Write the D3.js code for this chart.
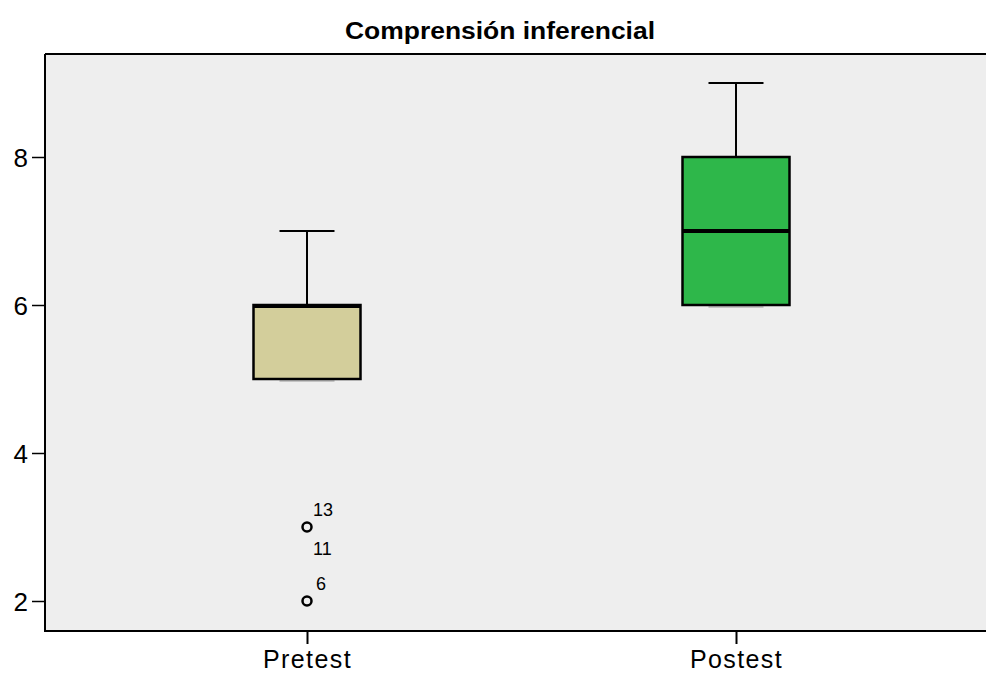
<!DOCTYPE html>
<html>
<head>
<meta charset="utf-8">
<script src="https://cdn.jsdelivr.net/npm/d3@7"></script>
<style>
  html, body { margin: 0; padding: 0; background: #ffffff; }
  svg { display: block; }
</style>
</head>
<body>
<svg id="chart" width="986" height="674"></svg>
<script>
// ---- data ----
const title = "Comprensión inferencial";
const categories = ["Pretest", "Postest"];
const whiskerLow = [5, 6];
const q1 = [5, 6];
const median = [6, 7];
const q3 = [6, 8];
const whiskerHigh = [7, 9];
const fills = ["#D3CE9B", "#2EB74A"];
const outlierGroup = ["Pretest", "Pretest"];
const outlierValue = [3, 2];
const outlierLabelTop = ["13", "6"];
const outlierLabelBottom = ["11", ""];
const yTicks = [2, 4, 6, 8];

// ---- layout ----
const W = 986, H = 674;
const plotLeft = 45, plotTop = 54, plotRight = 986, plotBottom = 631;
const svg = d3.select("#chart");

const y = d3.scaleLinear().domain([2, 8]).range([601, 157]);
const x = d3.scalePoint().domain(categories).range([307, 736]);
const boxW = 107, capW = 55;

// background
svg.append("rect").attr("x", 0).attr("y", 0).attr("width", W).attr("height", H).attr("fill", "#ffffff");
svg.append("rect")
  .attr("x", plotLeft).attr("y", plotTop)
  .attr("width", plotRight - plotLeft).attr("height", plotBottom - plotTop)
  .attr("fill", "#EEEEEE");

// title
svg.append("text")
  .attr("x", 500).attr("y", 39)
  .attr("text-anchor", "middle")
  .attr("font-family", "Liberation Sans, Arial, sans-serif")
  .attr("font-weight", "bold")
  .attr("font-size", 23)
  .attr("textLength", 310)
  .attr("lengthAdjust", "spacingAndGlyphs")
  .attr("fill", "#000")
  .text(title);

// boxes
const data = categories.map((c, i) => ({
  c, lo: whiskerLow[i], q1: q1[i], med: median[i], q3: q3[i], hi: whiskerHigh[i], fill: fills[i]
}));

const g = svg.append("g");
data.forEach(d => {
  const cx = x(d.c);
  // whiskers
  g.append("line").attr("x1", cx).attr("x2", cx).attr("y1", y(d.hi)).attr("y2", y(d.q3))
    .attr("stroke", "#000").attr("stroke-width", 2);
  g.append("line").attr("x1", cx).attr("x2", cx).attr("y1", y(d.lo)).attr("y2", y(d.q1))
    .attr("stroke", "#000").attr("stroke-width", 2);
  g.append("line").attr("x1", cx - capW / 2).attr("x2", cx + capW / 2).attr("y1", y(d.hi)).attr("y2", y(d.hi))
    .attr("stroke", "#000").attr("stroke-width", 2);
  g.append("line").attr("x1", cx - capW / 2).attr("x2", cx + capW / 2).attr("y1", y(d.lo) + 2).attr("y2", y(d.lo) + 2)
    .attr("stroke", "#999").attr("stroke-width", 1);
  // box
  g.append("rect")
    .attr("x", cx - boxW / 2).attr("y", y(d.q3))
    .attr("width", boxW).attr("height", y(d.q1) - y(d.q3))
    .attr("fill", d.fill).attr("stroke", "#000").attr("stroke-width", 2.5);
  // median
  g.append("line").attr("x1", cx - boxW / 2).attr("x2", cx + boxW / 2)
    .attr("y1", y(d.med) + (d.med === d.q3 ? 1 : 0)).attr("y2", y(d.med) + (d.med === d.q3 ? 1 : 0))
    .attr("stroke", "#000").attr("stroke-width", 4);
});

// outliers
outlierValue.forEach((v, i) => {
  const cx = x(outlierGroup[i]), cy = y(v);
  g.append("circle").attr("cx", cx).attr("cy", cy).attr("r", 4.5)
    .attr("fill", "none").attr("stroke", "#000").attr("stroke-width", 2.5);
  const tl = outlierLabelTop[i], bl = outlierLabelBottom[i];
  g.append("text").attr("x", cx + (tl.length > 1 ? 6 : 9)).attr("y", cy - 11)
    .attr("font-family", "Liberation Sans, Arial, sans-serif").attr("font-size", 18)
    .attr("fill", "#000").text(tl);
  if (bl) {
    g.append("text").attr("x", cx + 6).attr("y", cy + 28)
      .attr("font-family", "Liberation Sans, Arial, sans-serif").attr("font-size", 18)
      .attr("fill", "#000").text(bl);
  }
});

// top border
svg.append("line").attr("x1", plotLeft).attr("x2", plotRight).attr("y1", plotTop).attr("y2", plotTop)
  .attr("stroke", "#000").attr("stroke-width", 2);

// y axis
const yAxis = svg.append("g").attr("transform", `translate(${plotLeft},0)`)
  .call(d3.axisLeft(y).tickValues(yTicks).tickFormat(d3.format("d")).tickSize(13).tickPadding(4));
yAxis.select(".domain").remove();
yAxis.append("line").attr("x1", 0).attr("x2", 0).attr("y1", plotTop).attr("y2", plotBottom + 1)
  .attr("stroke", "#000").attr("stroke-width", 2);
yAxis.selectAll(".tick line").attr("stroke", "#000").attr("stroke-width", 1.5);
yAxis.selectAll(".tick text")
  .attr("font-family", "Liberation Sans, Arial, sans-serif").attr("font-size", 26).attr("fill", "#000")
  .attr("dy", "0.36em");

// x axis
const xAxis = svg.append("g").attr("transform", `translate(0,${plotBottom})`)
  .call(d3.axisBottom(x).tickSize(13).tickPadding(4));
xAxis.select(".domain").remove();
xAxis.append("line").attr("x1", plotLeft - 1).attr("x2", plotRight).attr("y1", 0).attr("y2", 0)
  .attr("stroke", "#000").attr("stroke-width", 2);
xAxis.selectAll(".tick line").attr("stroke", "#000").attr("stroke-width", 2);
xAxis.selectAll(".tick text")
  .attr("font-family", "Liberation Sans, Arial, sans-serif").attr("font-size", 25).attr("fill", "#000")
  .attr("letter-spacing", "1.4px")
  .attr("dy", "0")
  .attr("y", 37);
</script>
</body>
</html>
